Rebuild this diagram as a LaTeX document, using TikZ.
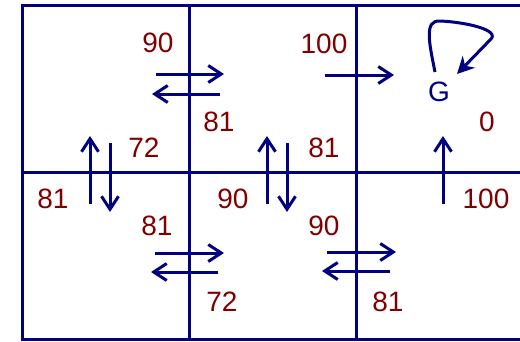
\documentclass[tikz,border=0pt]{standalone}
\usepackage{fontspec}
\setmainfont{Liberation Sans}
\usepackage{xcolor}
\usetikzlibrary{arrows.meta, positioning}

\definecolor{gridblue}{RGB}{0,0,128}
\definecolor{valred}{RGB}{128,0,0}

\tikzset{
    val/.style={text=valred, inner sep=0pt, font=\fontsize{28}{30}\selectfont},
    goal/.style={text=gridblue, inner sep=0pt, font=\fontsize{28}{30}\selectfont},
    move/.style={draw=gridblue, line width=3pt, -{Straight Barb[length=13pt, width=17pt, line width=3pt]}},
}

\begin{document}
\begin{tikzpicture}[x=1pt, y=-1pt]

    \useasboundingbox (0,0) rectangle (520,341);
    \clip (0,0) rectangle (520,341);

    % =================================================================
    % 1. LUOI O
    % =================================================================
    \draw[gridblue, line width=3pt] (22,5.5) rectangle (530,339);
    \draw[gridblue, line width=3pt] (22,172.5) -- (530,172.5);
    \draw[gridblue, line width=3pt] (189,5.5) -- (189,339);
    \draw[gridblue, line width=3pt] (356.5,5.5) -- (356.5,339);

    % =================================================================
    % 2. CAC MUI TEN DI CHUYEN
    % =================================================================
    % hang tren
    \draw[move] (156,74) -- (224,74);
    \draw[move] (220,94) -- (152,94);
    \draw[move] (325,75) -- (394,75);
    % hang duoi
    \draw[move] (155,253) -- (224,253);
    \draw[move] (218,272) -- (151,272);
    \draw[move] (327,252) -- (396,252);
    \draw[move] (390,271) -- (322,271);
    % len xuong
    \draw[move] (90,204) -- (90,136);
    \draw[move] (110,143) -- (110,212);
    \draw[move] (267,204) -- (267,136);
    \draw[move] (287,143) -- (287,212);
    \draw[move] (443,204) -- (443,136);

    % vong lap tai G
    \draw[gridblue, line width=3pt, -{Stealth[length=17pt, width=17pt]}]
        (435,72) .. controls (429,42) and (424,20) .. (440,21)
        .. controls (465,22) and (502,30) .. (490,40) -- (457,74);

    % =================================================================
    % 3. GIA TRI CAC O
    % =================================================================
    \node[goal] (G) at (439,92) {G};

    \node[val] (q90t)  at (158,43)  {90};
    \node[val] (q81t)  at (219,122) {81};
    \node[val] (q72t)  at (144,148) {72};
    \node[val] (q100t) at (324,44)  {100};
    \node[val] (q81m)  at (324,148) {81};
    \node[val] (q0)    at (487,122) {0};

    \node[val] (q81l)  at (53,199)  {81};
    \node[val] (q81b)  at (157,226) {81};
    \node[val] (q90b)  at (233,199) {90};
    \node[val] (q72b)  at (222,302) {72};
    \node[val] (q90r)  at (324,226) {90};
    \node[val] (q81r)  at (388,302) {81};
    \node[val] (q100b) at (486,199) {100};

\end{tikzpicture}
\end{document}
